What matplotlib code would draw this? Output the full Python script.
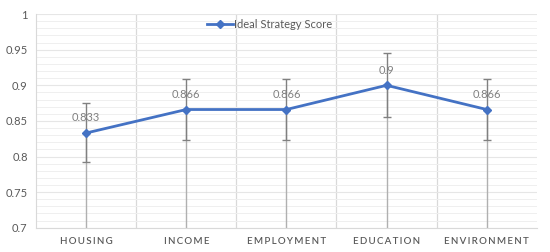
import numpy as np
import matplotlib.pyplot as plt
from matplotlib.ticker import MultipleLocator

# Data
categories = ['HOUSING', 'INCOME', 'EMPLOYMENT', 'EDUCATION', 'ENVIRONMENT']
scores = [0.833, 0.866, 0.866, 0.9, 0.866]
score_labels = ['0.833', '0.866', '0.866', '0.9', '0.866']
err_plus = [0.042, 0.043, 0.043, 0.045, 0.043]
err_minus = [0.041, 0.043, 0.043, 0.045, 0.043]

plt.rcParams['font.family'] = ['Lato', 'DejaVu Sans']

fig = plt.figure(figsize=(5.5, 2.52), dpi=100)
ax = fig.add_axes([0.0655, 0.0964, 0.9105, 0.8476])

x = np.arange(len(categories))
blue = '#4472C4'

# Gridlines
ax.set_ylim(0.7, 1.0)
ax.set_xlim(-0.5, len(categories) - 0.5)
ax.yaxis.set_major_locator(MultipleLocator(0.05))
ax.yaxis.set_minor_locator(MultipleLocator(0.01))
ax.grid(axis='y', which='major', color='#e6e6e6', lw=0.8)
ax.grid(axis='y', which='minor', color='#efefef', lw=0.7)
for b in np.arange(0.5, len(categories) - 0.5, 1):
    ax.axvline(b, color='#d9d9d9', lw=0.9, zorder=1)

# Drop lines from points to axis
ax.vlines(x, 0.7, scores, color='#b0b0b0', lw=1.0, zorder=2)

# Error bars
ax.errorbar(x, scores, yerr=[err_minus, err_plus], fmt='none',
            ecolor='#808080', elinewidth=1.0, capsize=3, capthick=1.0, zorder=3)

# Main line
ax.plot(x, scores, color=blue, lw=2.0, marker='D', markersize=4.5,
        zorder=4, label='Ideal Strategy Score')

for xi, yi, lab in zip(x, scores, score_labels):
    ax.annotate(lab, (xi, yi), xytext=(0, 11), textcoords='offset points',
                ha='center', va='center', fontsize=8, color='#808080', zorder=5)

# Axes styling
ax.set_xticks(x)
ax.set_xticklabels(['\u2009'.join(c) for c in categories], fontsize=7,
                   fontweight='semibold', color='#595959')
ax.tick_params(axis='x', length=0, pad=7)
ax.tick_params(axis='y', which='both', length=0, labelsize=8, labelcolor='#595959', pad=6)
ax.set_yticks([0.7, 0.75, 0.8, 0.85, 0.9, 0.95, 1.0])
ax.set_yticklabels(['0.7', '0.75', '0.8', '0.85', '0.9', '0.95', '1'])
for s in ['top', 'right']:
    ax.spines[s].set_visible(False)
ax.spines['left'].set_color('#d9d9d9')
ax.spines['bottom'].set_color('#d9d9d9')

leg = ax.legend(loc='center left', bbox_to_anchor=(0.341, 0.95), frameon=False,
                fontsize=8, handlelength=2.35, handletextpad=0.1,
                borderpad=0, borderaxespad=0, labelcolor='#595959')

fig.savefig('out.png', dpi=100)
